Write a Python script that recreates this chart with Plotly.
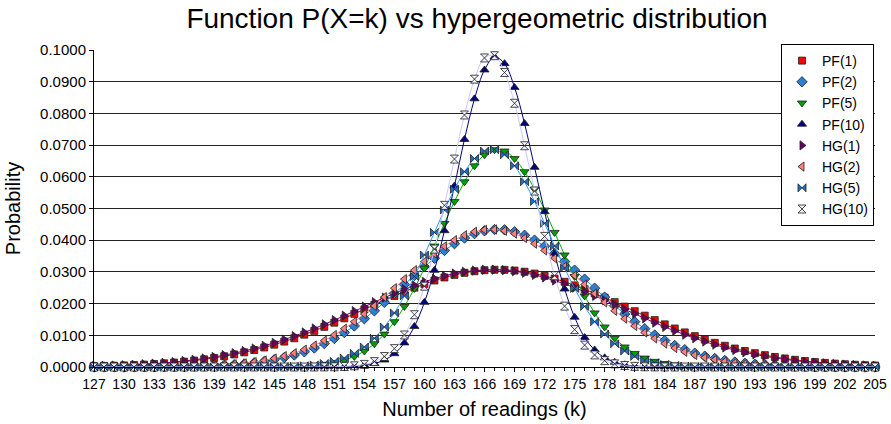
import plotly.graph_objects as go

k_values = list(range(127, 206))

pf1 = [0.00025, 0.00032, 0.00040, 0.00050, 0.00062, 0.00077, 0.00095, 0.00116, 0.00140, 0.00169,
       0.00203, 0.00242, 0.00287, 0.00339, 0.00397, 0.00462, 0.00535, 0.00616, 0.00705, 0.00802,
       0.00907, 0.01020, 0.01140, 0.01266, 0.01398, 0.01535, 0.01676, 0.01818, 0.01961, 0.02103,
       0.02242, 0.02376, 0.02503, 0.02621, 0.02729, 0.02824, 0.02906, 0.02972, 0.03021, 0.03054,
       0.03068, 0.03065, 0.03043, 0.03004, 0.02947, 0.02875, 0.02788, 0.02688, 0.02575, 0.02453,
       0.02323, 0.02187, 0.02046, 0.01904, 0.01761, 0.01619, 0.01480, 0.01345, 0.01215, 0.01091,
       0.00974, 0.00864, 0.00763, 0.00669, 0.00583, 0.00505, 0.00435, 0.00373, 0.00317, 0.00269,
       0.00226, 0.00189, 0.00157, 0.00130, 0.00107, 0.00087, 0.00071, 0.00057, 0.00046]

pf2 = [0.000003, 0.000005, 0.00001, 0.00001, 0.00002, 0.00003, 0.00004, 0.00006, 0.00009, 0.00013,
       0.00019, 0.00027, 0.00038, 0.00053, 0.00073, 0.00098, 0.00132, 0.00175, 0.00229, 0.00296,
       0.00379, 0.00479, 0.00599, 0.00738, 0.00900, 0.01086, 0.01294, 0.01524, 0.01773, 0.02039,
       0.02317, 0.02602, 0.02887, 0.03166, 0.03431, 0.03675, 0.03890, 0.04069, 0.04206, 0.04297,
       0.04338, 0.04328, 0.04267, 0.04157, 0.04003, 0.03808, 0.03580, 0.03327, 0.03055, 0.02773,
       0.02487, 0.02205, 0.01931, 0.01671, 0.01429, 0.01208, 0.01009, 0.00833, 0.00679, 0.00548,
       0.00437, 0.00344, 0.00268, 0.00206, 0.00156, 0.00117, 0.00087, 0.00064, 0.00046, 0.00033,
       0.00023, 0.00016, 0.00011, 0.00008, 0.00005, 0.00003, 0.00002, 0.00001, 0.00001]

pf5 = [0.0, 0.0, 0.0, 0.0, 0.0, 0.0, 0.0, 0.0, 0.0, 0.0,
       0.0, 0.0, 0.0, 0.0, 0.0, 0.00001, 0.00001, 0.00002, 0.00004, 0.00008,
       0.00015, 0.00028, 0.00048, 0.00082, 0.00135, 0.00215, 0.00334, 0.00502, 0.00733, 0.01038,
       0.01429, 0.01910, 0.02478, 0.03121, 0.03817, 0.04532, 0.05223, 0.05843, 0.06346, 0.06693,
       0.06853, 0.06813, 0.06575, 0.06161, 0.05606, 0.04952, 0.04246, 0.03534, 0.02856, 0.02241,
       0.01707, 0.01262, 0.00907, 0.00632, 0.00428, 0.00281, 0.00179, 0.00111, 0.00067, 0.00039,
       0.00022, 0.00012, 0.00007, 0.00003, 0.00002, 0.00001, 0.0, 0.0, 0.0, 0.0,
       0.0, 0.0, 0.0, 0.0, 0.0, 0.0, 0.0, 0.0, 0.0]

pf10 = [0.0, 0.0, 0.0, 0.0, 0.0, 0.0, 0.0, 0.0, 0.0, 0.0,
        0.0, 0.0, 0.0, 0.0, 0.0, 0.0, 0.0, 0.0, 0.0, 0.0,
        0.0, 0.0, 0.0, 0.00001, 0.00004, 0.0001, 0.00023, 0.00052, 0.0011, 0.0022,
        0.0042, 0.0076, 0.0128, 0.0204, 0.0305, 0.0430, 0.0571, 0.0718, 0.0846, 0.0937,
        0.0978, 0.0957, 0.0882, 0.0768, 0.0630, 0.0490, 0.0357, 0.0246, 0.0157, 0.0093,
        0.0054, 0.0029, 0.0015, 0.0007, 0.0003, 0.00013, 0.00005, 0.00002, 0.00001, 0.0,
        0.0, 0.0, 0.0, 0.0, 0.0, 0.0, 0.0, 0.0, 0.0, 0.0,
        0.0, 0.0, 0.0, 0.0, 0.0, 0.0, 0.0, 0.0, 0.0]

hg1 = [0.00029, 0.00037, 0.00046, 0.00057, 0.00071, 0.00087, 0.00107, 0.00130, 0.00157, 0.00189,
       0.00226, 0.00269, 0.00317, 0.00373, 0.00435, 0.00505, 0.00583, 0.00669, 0.00763, 0.00864,
       0.00974, 0.01091, 0.01215, 0.01345, 0.01480, 0.01619, 0.01761, 0.01904, 0.02046, 0.02187,
       0.02323, 0.02453, 0.02575, 0.02688, 0.02788, 0.02875, 0.02947, 0.03004, 0.03043, 0.03065,
       0.03068, 0.03054, 0.03021, 0.02972, 0.02906, 0.02824, 0.02729, 0.02621, 0.02503, 0.02376,
       0.02242, 0.02103, 0.01961, 0.01818, 0.01676, 0.01535, 0.01398, 0.01266, 0.01140, 0.01020,
       0.00907, 0.00802, 0.00705, 0.00616, 0.00535, 0.00462, 0.00397, 0.00339, 0.00287, 0.00242,
       0.00203, 0.00169, 0.00140, 0.00116, 0.00095, 0.00077, 0.00062, 0.00050, 0.00040]

hg2 = [0.000004, 0.00001, 0.00001, 0.00001, 0.00002, 0.00003, 0.00005, 0.00008, 0.00011, 0.00016,
       0.00023, 0.00033, 0.00046, 0.00064, 0.00087, 0.00117, 0.00156, 0.00206, 0.00268, 0.00344,
       0.00437, 0.00548, 0.00679, 0.00833, 0.01009, 0.01208, 0.01429, 0.01671, 0.01931, 0.02205,
       0.02487, 0.02773, 0.03055, 0.03327, 0.03580, 0.03808, 0.04003, 0.04157, 0.04267, 0.04328,
       0.04338, 0.04297, 0.04206, 0.04069, 0.03890, 0.03675, 0.03431, 0.03166, 0.02887, 0.02602,
       0.02317, 0.02039, 0.01773, 0.01524, 0.01294, 0.01086, 0.00900, 0.00738, 0.00599, 0.00479,
       0.00379, 0.00296, 0.00229, 0.00175, 0.00132, 0.00098, 0.00073, 0.00053, 0.00038, 0.00027,
       0.00019, 0.00013, 0.00009, 0.00006, 0.00004, 0.00003, 0.00002, 0.00001, 0.00001]

hg5 = [0.0, 0.0, 0.0, 0.0, 0.0, 0.0, 0.0, 0.0, 0.0, 0.0,
       0.0, 0.0, 0.0, 0.0, 0.0, 0.00001, 0.00002, 0.00003, 0.00007, 0.00012,
       0.00022, 0.00039, 0.00067, 0.00111, 0.00179, 0.00281, 0.00428, 0.00632, 0.00907, 0.01262,
       0.01707, 0.02241, 0.02856, 0.03534, 0.04246, 0.04952, 0.05606, 0.06161, 0.06575, 0.06813,
       0.06853, 0.06693, 0.06346, 0.05843, 0.05223, 0.04532, 0.03817, 0.03121, 0.02478, 0.01910,
       0.01429, 0.01038, 0.00733, 0.00502, 0.00334, 0.00215, 0.00135, 0.00082, 0.00048, 0.00028,
       0.00015, 0.00008, 0.00004, 0.00002, 0.00001, 0.00001, 0.0, 0.0, 0.0, 0.0,
       0.0, 0.0, 0.0, 0.0, 0.0, 0.0, 0.0, 0.0, 0.0]

hg10 = [0.0, 0.0, 0.0, 0.0, 0.0, 0.0, 0.0, 0.0, 0.0, 0.0,
        0.0, 0.0, 0.0, 0.0, 0.0, 0.0, 0.0, 0.0, 0.0, 0.0,
        0.0, 0.0, 0.00001, 0.00003, 0.00007, 0.00016, 0.00038, 0.00082, 0.0017, 0.0033,
        0.0058, 0.0101, 0.0165, 0.0255, 0.0372, 0.0510, 0.0656, 0.0795, 0.0908, 0.0975,
        0.0982, 0.0929, 0.0832, 0.0698, 0.0555, 0.0412, 0.0288, 0.0192, 0.0118, 0.0069,
        0.0038, 0.0020, 0.0010, 0.00047, 0.0002, 0.00008, 0.00003, 0.00001, 0.0, 0.0,
        0.0, 0.0, 0.0, 0.0, 0.0, 0.0, 0.0, 0.0, 0.0, 0.0,
        0.0, 0.0, 0.0, 0.0, 0.0, 0.0, 0.0, 0.0, 0.0]

series_names = ["PF(1)", "PF(2)", "PF(5)", "PF(10)", "HG(1)", "HG(2)", "HG(5)", "HG(10)"]
series_values = [pf1, pf2, pf5, pf10, hg1, hg2, hg5, hg10]

styles = [
    dict(symbol="square", fill="#FF0000", line="#FF0000", size=7),
    dict(symbol="diamond", fill="#2F7FD8", line="#2F8FE8", size=8),
    dict(symbol="triangle-down", fill="#00A000", line="#00B400", size=8),
    dict(symbol="triangle-up", fill="#000080", line="#000080", size=8),
    dict(symbol="triangle-right", fill="#660066", line="#800080", size=8),
    dict(symbol="triangle-left", fill="#FF8080", line="#FF8080", size=8),
    dict(symbol="bowtie", fill="#1F6FC8", line="#3399FF", size=8),
    dict(symbol="hourglass", fill="#F0F0FF", line="#C8C8FF", size=8),
]

fig = go.Figure()

for name, vals, st in zip(series_names, series_values, styles):
    fig.add_trace(go.Scatter(
        x=k_values, y=vals, mode="lines", name=name, showlegend=False,
        line=dict(color=st["line"], width=1, shape="spline"),
        hoverinfo="skip", cliponaxis=False,
    ))
    fig.add_trace(go.Scatter(
        x=k_values, y=vals, mode="markers", name=name, showlegend=True,
        marker=dict(symbol=st["symbol"], color=st["fill"], size=st["size"],
                    line=dict(color="#202020", width=0.8)),
        cliponaxis=False,
    ))

fig.update_layout(
    width=891, height=424,
    margin=dict(l=94, r=16, t=50, b=57),
    paper_bgcolor="white", plot_bgcolor="white",
    font=dict(family="Liberation Sans, Arial, sans-serif", color="black"),
    title=dict(text="Function P(X=k) vs hypergeometric distribution",
               font=dict(size=28, color="black"),
               x=477 / 891, xref="container", xanchor="center",
               y=1 - 18 / 424, yref="container", yanchor="middle"),
    legend=dict(x=(874 - 94) / 781, y=(367 - 44) / 317, xanchor="right", yanchor="top",
                bgcolor="white", bordercolor="black", borderwidth=1,
                font=dict(size=14), itemwidth=30, tracegroupgap=0),
    showlegend=True,
)

fig.update_xaxes(
    range=[127, 205], tick0=127, dtick=3, ticks="outside", ticklen=4, tickcolor="black",
    minor=dict(dtick=1, ticks="outside", ticklen=3, tickcolor="black", showgrid=False),
    showline=True, linecolor="black", linewidth=1, showgrid=False, zeroline=False,
    automargin=False,
    tickfont=dict(size=14), title=dict(text="Number of readings (k)", font=dict(size=20), standoff=11),
)
fig.update_yaxes(
    range=[0, 0.1], dtick=0.01, tickformat=".4f", ticks="outside", ticklen=4, tickcolor="black",
    showline=True, linecolor="black", linewidth=1, showgrid=True, gridcolor="#222222", gridwidth=1,
    zeroline=False, automargin=False, tickfont=dict(size=15),
    title=dict(text="Probability", font=dict(size=20), standoff=14),
)

fig.write_html("out.html")
